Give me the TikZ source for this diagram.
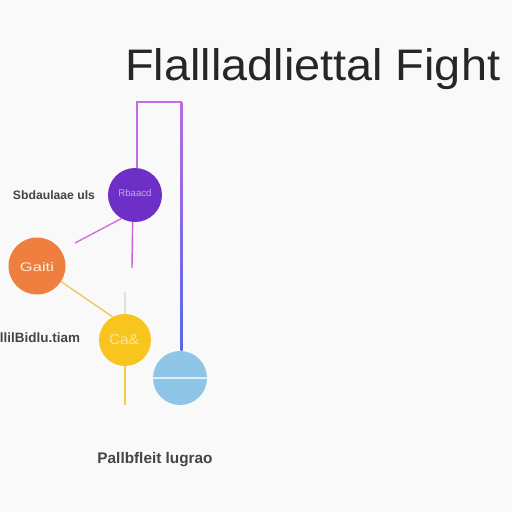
\documentclass[tikz,border=0pt]{standalone}
\usepackage{fontspec}
\setmainfont{Liberation Sans}
\usetikzlibrary{calc}
\definecolor{bg}{HTML}{F9F9F9}
\definecolor{purp}{HTML}{6E2FC6}
\definecolor{orng}{HTML}{EF7F3E}
\definecolor{yelw}{HTML}{F7C51E}
\definecolor{lblue}{HTML}{8FC5E6}
\definecolor{pinkl}{HTML}{D86CDA}
\definecolor{brk}{HTML}{C46CE2}
\definecolor{brkblue}{HTML}{5468E6}
\definecolor{oyl}{HTML}{F6C468}
\definecolor{txt}{HTML}{444444}
\begin{document}
\begin{tikzpicture}[x=1pt,y=-1pt,
  circ/.style={circle,inner sep=0pt,minimum size=#1},
  lab/.style={text=txt,font=\fontsize{11}{11}\selectfont\bfseries,inner sep=0pt},
  inlab/.style={font=\fontsize{9}{9}\selectfont,inner sep=0pt}]
\fill[bg] (0,0) rectangle (512,512);
\useasboundingbox (0,0) rectangle (512,512);
% title
\node[text=black!85,font=\fontsize{45}{45}\selectfont,anchor=base west,inner sep=0pt] (title) at (125,80) {\resizebox{375pt}{32pt}{Flallladliettal Fight}};
% circles
\node[circ=54,fill=purp] (p) at (135,195) {};
\node[inlab,text=purp!40!white] (pt) at (135,193) {\resizebox{33pt}{7pt}{Rbaacd}};
\node[circ=57,fill=orng] (o) at (37,266) {};
\node[inlab,text=white!85!orng] (ot) at (37,267) {\resizebox{34pt}{9pt}{Gaiti}};
\node[circ=52,fill=yelw] (y) at (125,340) {};
\node[inlab,text=white!55!yelw] (yt) at (124,340) {\resizebox{30pt}{10pt}{Ca\&}};
\node[circ=54,fill=lblue] (b) at (180,378) {};
\draw[white!70!lblue,line width=1.3pt] (b.west) -- (b.east);
% coordinates
\coordinate (b1) at (137,102);
\coordinate (b2) at (181.5,102);
\coordinate (c1) at (75,243);
\coordinate (c2) at (132,268);
\coordinate (c3) at (125,292);
\coordinate (c4) at (125,405);
% bracket
\draw[brk,line width=2pt] (p.north -| b1) -- (b1) -- (b2);
\shade[top color=brk!90!brkblue,bottom color=brkblue] ($(b2)+(-1,0)$) rectangle ($(b2 |- b.north)+(1,0)$);
% other connectors
\draw[pinkl,line width=1.4pt] (p.240) -- (c1);
\draw[pinkl!85!purp,line width=1.4pt] (p.265) -- (c2);
\draw[oyl,line width=1.4pt] (o.-33) -- (y.118);
\draw[black!12,line width=1.2pt] (c3) -- (y.north);
\draw[yelw!85!white,line width=1.4pt] (y.south) -- (c4);
% labels
\node[lab] (l1) at (54,195) {\resizebox{82pt}{!}{Sbdaulaae uls}};
\node[lab] (l2) at (40,338) {\resizebox{80pt}{!}{llilBidlu.tiam}};
\node[lab] (l3) at (155,460) {\resizebox{115pt}{!}{Pallbfleit lugrao}};
\end{tikzpicture}
\end{document}
